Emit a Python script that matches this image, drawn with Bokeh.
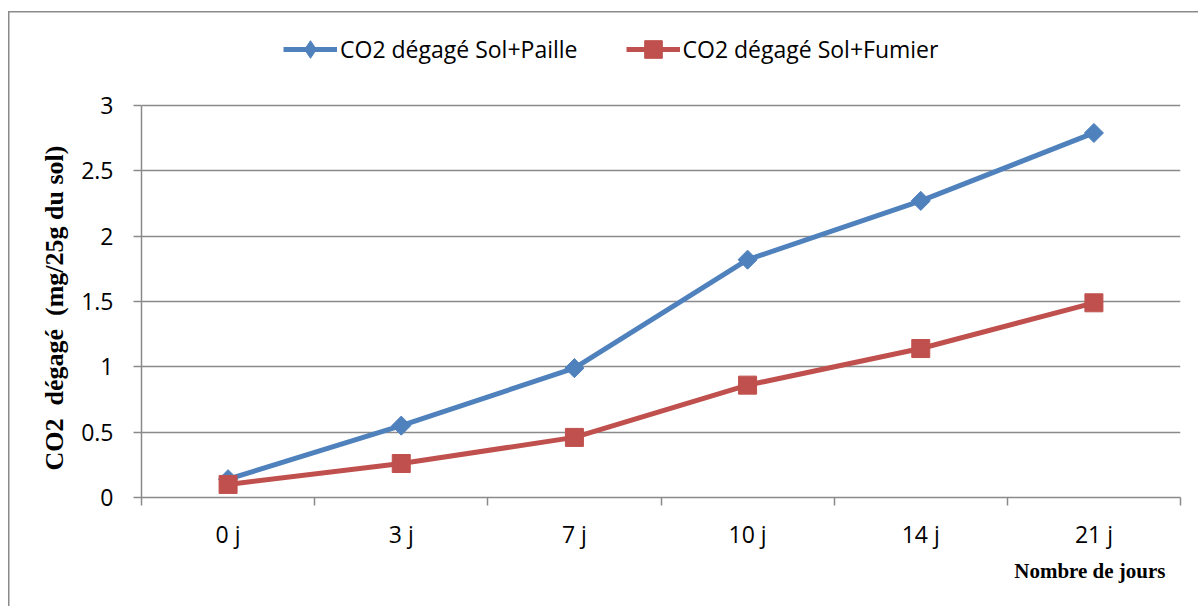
from bokeh.plotting import figure
from bokeh.models import (FixedTicker, NumeralTickFormatter, Legend, LegendItem,
                          Range1d, Title)
from bokeh.embed import file_html
from bokeh.resources import INLINE
import math

# Days of incubation and CO2 released (mg / 25 g of soil)
days = ["0 j", "3 j", "7 j", "10 j", "14 j", "21 j"]
co2_paille = [0.14, 0.55, 0.99, 1.82, 2.27, 2.79]
co2_fumier = [0.10, 0.26, 0.46, 0.86, 1.14, 1.49]
y_ticks = [0, 0.5, 1, 1.5, 2, 2.5, 3]

label_paille = "CO2 dégagé Sol+Paille"
label_fumier = "CO2 dégagé Sol+Fumier"
y_title = "CO2 \u00a0dégagé \u00a0(mg/25g du sol)"
x_title = "Nombre de jours"

BLUE = "#4F81BD"
RED = "#C0504D"
GRID = "#8a8a8a"
TICK_FONT = "Open Sans"
TICK_SIZE = "23px"

# page geometry (pixels)
W, H = 1198, 606
FRAME_LEFT, FRAME_RIGHT = 141, 1180
FRAME_TOP, AXIS_TOP, AXIS_BOTTOM = 20, 105, 497

# the frame reaches up to hold the legend; the value axis itself stops at 3
y_max = y_ticks[-1]
px_per_unit = (AXIS_BOTTOM - AXIS_TOP) / y_max
y_end = y_max + (AXIS_TOP - FRAME_TOP) / px_per_unit

# one slot per day, points sit in the middle of each slot
xs = [i + 0.5 for i in range(len(days))]

p = figure(width=W, height=H, output_backend="svg", toolbar_location=None,
           x_range=Range1d(0, len(days)), y_range=Range1d(0, y_end),
           min_border_left=FRAME_LEFT, min_border_right=W - FRAME_RIGHT,
           min_border_top=FRAME_TOP, min_border_bottom=H - AXIS_BOTTOM)
p.outline_line_color = None
p.background_fill_color = "white"
p.border_fill_color = None
# thin grey chart-area border (left and top edges)
p.styles = {
    "background-color": "white",
    "background-image": "linear-gradient(#8a8a8a, #8a8a8a), linear-gradient(#8a8a8a, #8a8a8a)",
    "background-size": "1.5px 100%, 100% 1.5px",
    "background-position": "8px 11px, 8px 11px",
    "background-repeat": "no-repeat",
}

r_l1 = p.line(xs, co2_paille, line_color=BLUE, line_width=5)
r_m1 = p.scatter(xs, co2_paille, marker="square", angle=math.pi / 4, size=13.5,
                 fill_color=BLUE, line_color=BLUE)
r_l2 = p.line(xs, co2_fumier, line_color=RED, line_width=5)
r_m2 = p.scatter(xs, co2_fumier, marker="square", size=18,
                 fill_color=RED, line_color=RED)
# diamond swatch for the legend entry of the first series (no point drawn)
r_key1 = p.scatter([float("nan")], [float("nan")], marker="diamond",
                   fill_color=BLUE, line_color=BLUE)

# y axis
ya = p.yaxis[0]
ya.bounds = (0, y_max)
ya.ticker = FixedTicker(ticks=y_ticks)
ya.formatter = NumeralTickFormatter(format="0.[0]")
ya.axis_line_color = GRID
ya.axis_line_width = 1.5
ya.major_tick_line_color = GRID
ya.major_tick_line_width = 1.5
ya.major_tick_in = 0
ya.major_tick_out = 8
ya.minor_tick_line_color = None
ya.major_label_text_font = TICK_FONT
ya.major_label_text_font_size = TICK_SIZE
ya.major_label_text_color = "black"
ya.major_label_standoff = 20

# x axis: labels in the middle of each slot, ticks on slot boundaries
xa = p.xaxis[0]
xa.ticker = FixedTicker(ticks=xs, minor_ticks=list(range(len(days) + 1)))
xa.major_label_overrides = {x: d for x, d in zip(xs, days)}
xa.axis_line_color = GRID
xa.axis_line_width = 1.5
xa.major_tick_line_color = None
xa.major_tick_in = 0
xa.major_tick_out = 0
xa.minor_tick_line_color = GRID
xa.minor_tick_line_width = 1.5
xa.minor_tick_in = 0
xa.minor_tick_out = 8
xa.major_label_text_font = TICK_FONT
xa.major_label_text_font_size = TICK_SIZE
xa.major_label_text_color = "black"
xa.major_label_standoff = 12

p.xgrid.grid_line_color = None
p.ygrid.ticker = FixedTicker(ticks=y_ticks[1:])
p.ygrid.grid_line_color = GRID
p.ygrid.grid_line_width = 1.5

# axis titles as side-panel titles so they can be placed off-centre
p.add_layout(Title(text=y_title, align="left", offset=27, standoff=20,
                   text_font="Liberation Serif", text_font_style="bold",
                   text_font_size="26px", text_color="black"), "left")
p.add_layout(Title(text=x_title, align="right", offset=15, standoff=8,
                   text_font="Liberation Serif", text_font_style="bold",
                   text_font_size="21px", text_color="black"), "below")

legend_h = 44
legend = Legend(items=[LegendItem(label=label_paille, renderers=[r_l1, r_key1]),
                       LegendItem(label=label_fumier, renderers=[r_l2, r_m2])],
                orientation="horizontal",
                location=(283 - FRAME_LEFT, AXIS_BOTTOM - 27 - legend_h),
                glyph_width=54, glyph_height=legend_h, label_standoff=3, spacing=48,
                padding=0, margin=0, border_line_color=None,
                background_fill_alpha=0,
                label_text_font=TICK_FONT, label_text_font_size=TICK_SIZE,
                label_text_color="black")
p.add_layout(legend, "center")

open("out.html", "w").write(file_html(p, INLINE))
